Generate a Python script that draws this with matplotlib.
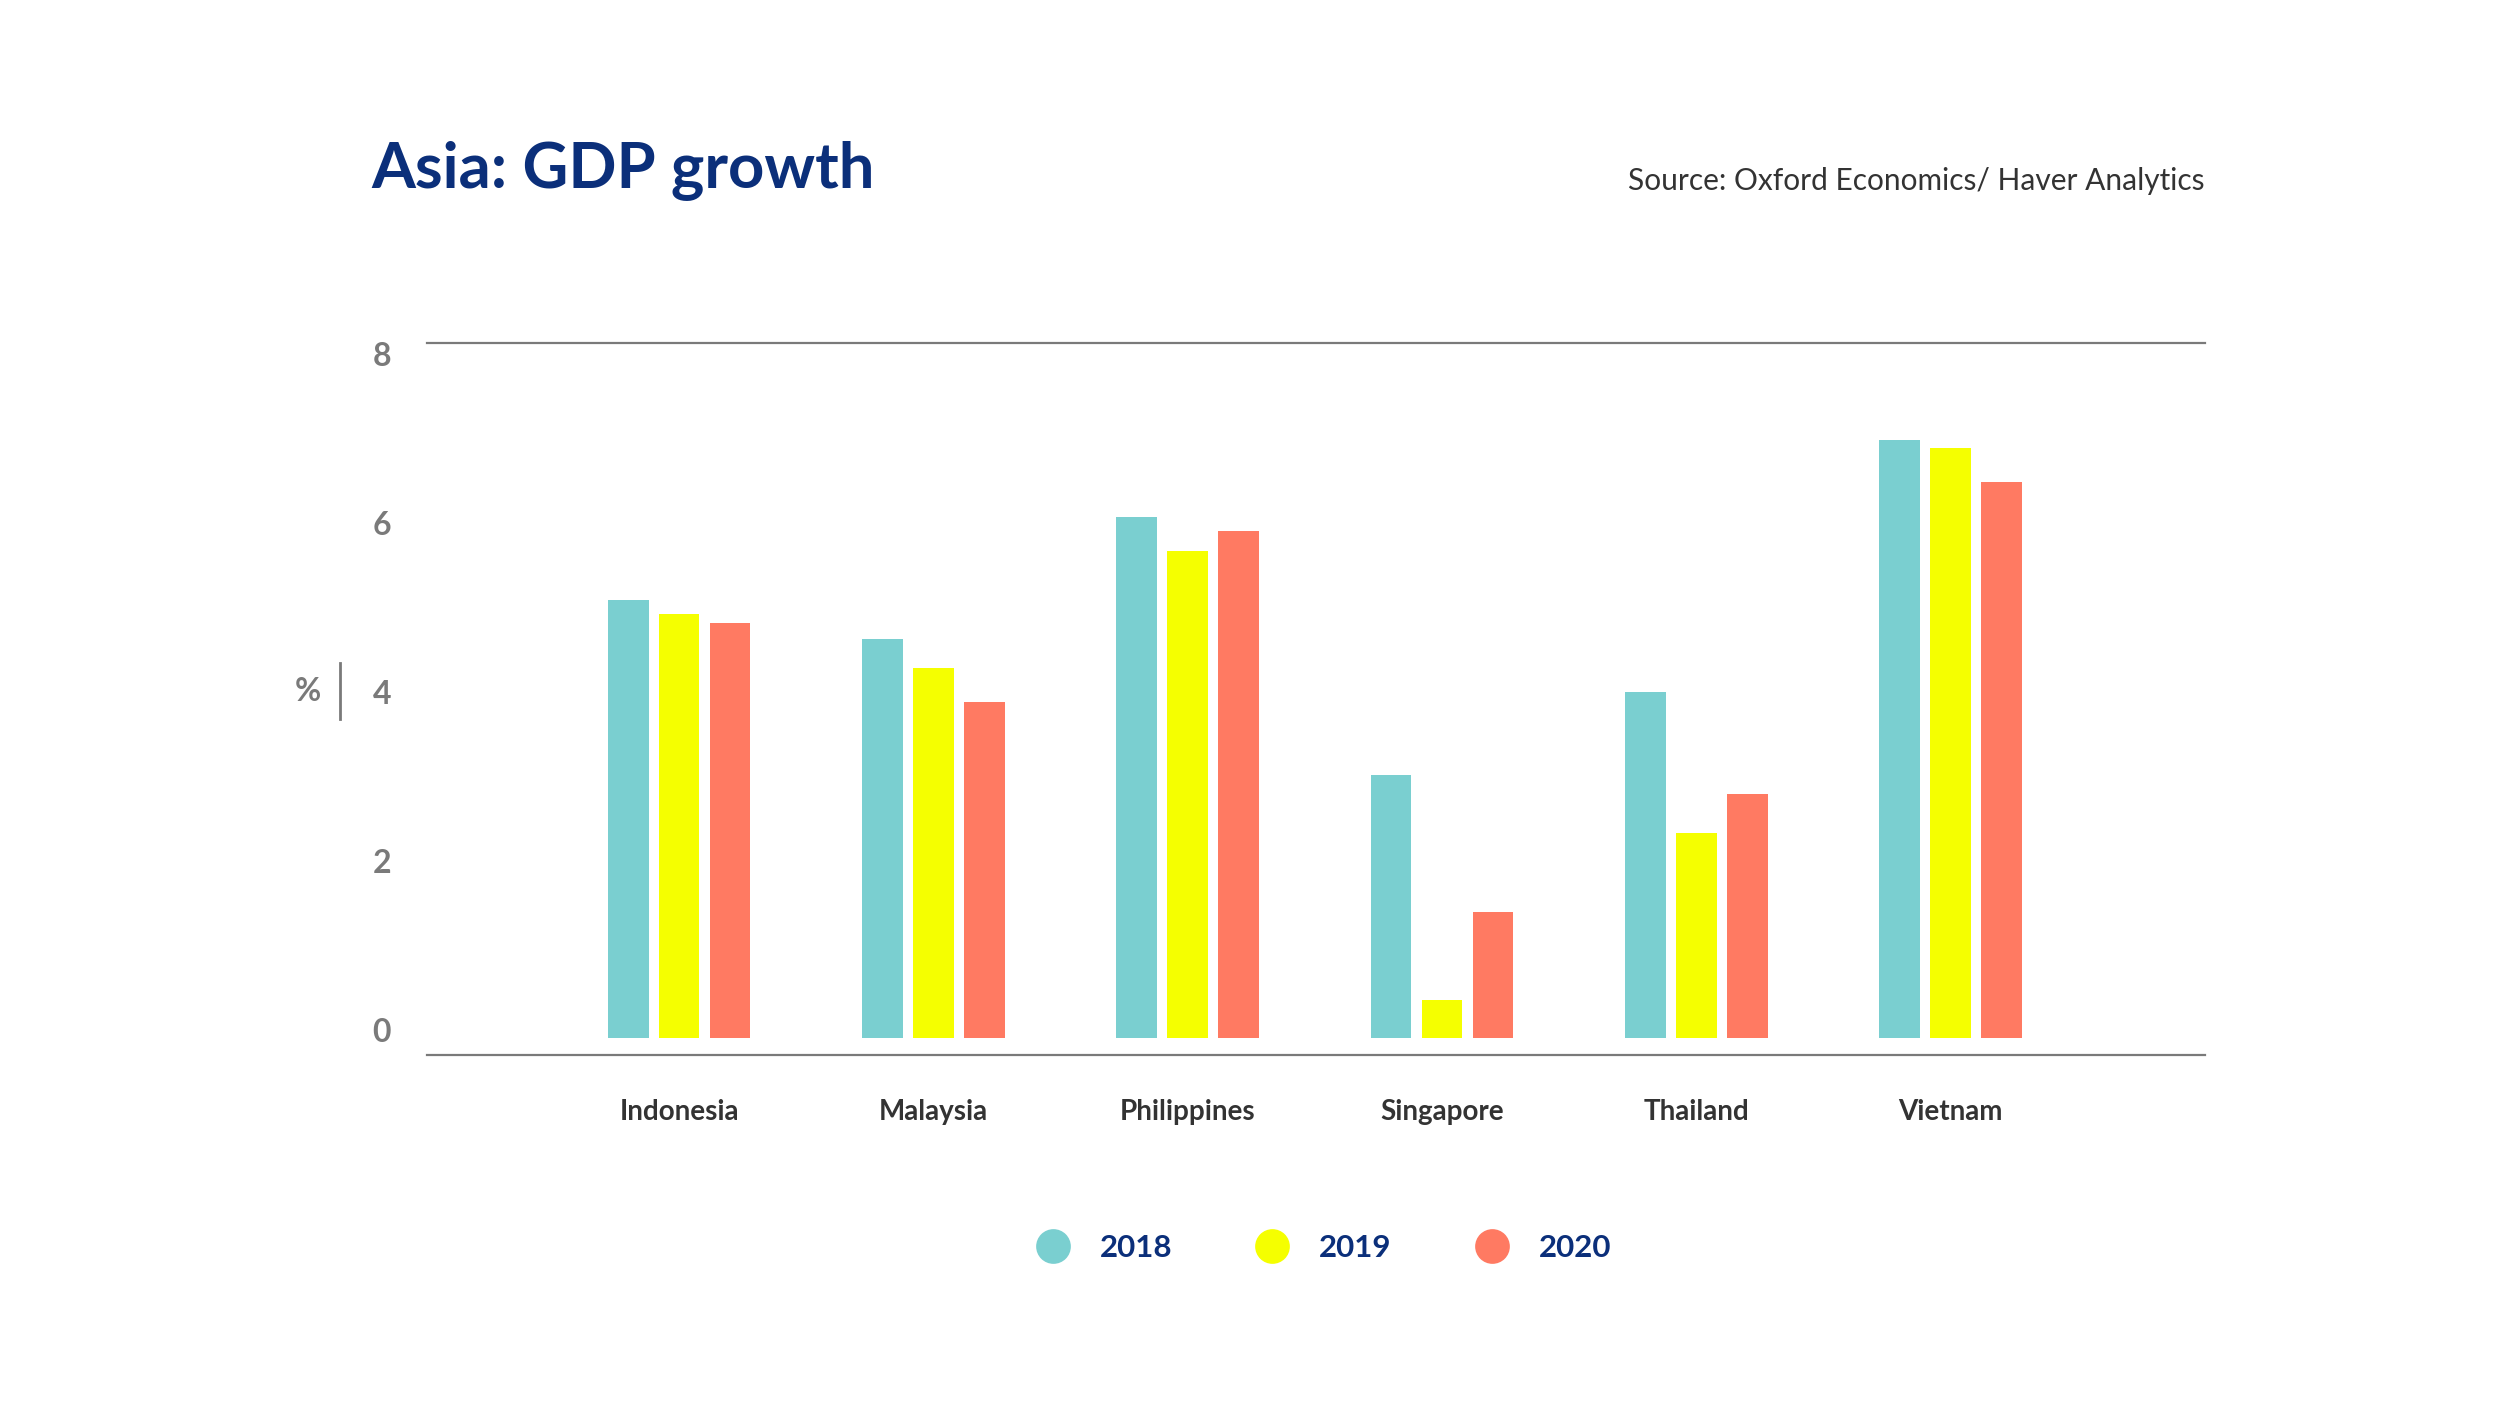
import numpy as np
import matplotlib
matplotlib.use('Agg')
import matplotlib.pyplot as plt
import matplotlib.transforms as mtransforms
from matplotlib.lines import Line2D

# Chart data
countries = ['Indonesia', 'Malaysia', 'Philippines', 'Singapore', 'Thailand', 'Vietnam']
years = ['2018', '2019', '2020']
gdp_2018 = [5.18, 4.72, 6.17, 3.11, 4.09, 7.08]
gdp_2019 = [5.02, 4.38, 5.77, 0.45, 2.42, 6.98]
gdp_2020 = [4.91, 3.98, 6.00, 1.49, 2.89, 6.58]
y_ticks = [0, 2, 4, 6, 8]

colors = ['#7ACFD0', '#F5FF00', '#FF7A62']
navy = '#0B2F7A'
grey = '#7A7A7A'

plt.rcParams['font.family'] = ['Lato', 'DejaVu Sans']

fig = plt.figure(figsize=(25, 14.06), dpi=100)
ax = fig.add_axes([0.1709, 0.2493, 0.7111, 0.5069])

x = np.arange(len(countries))
width = 0.16
offsets = [-0.2, 0.0, 0.2]
for series, off, col in zip([gdp_2018, gdp_2019, gdp_2020], offsets, colors):
    ax.bar(x + off, series, width=width, color=col, edgecolor='none')

ax.set_xlim(-0.99, 6.0)
ax.set_ylim(-0.21, 8.23)

# only top and bottom lines
for side in ['left', 'right']:
    ax.spines[side].set_visible(False)
for side in ['top', 'bottom']:
    ax.spines[side].set_color(grey)
    ax.spines[side].set_linewidth(1.6)

ax.set_yticks(y_ticks)
ax.set_yticklabels([str(t) for t in y_ticks], fontsize=23, fontweight='bold', color=grey)
ax.tick_params(axis='y', length=0, pad=26)
# labels sit a little above their values in the original
shift = mtransforms.ScaledTranslation(0, 8 / 100, fig.dpi_scale_trans)
for lab in ax.get_yticklabels():
    lab.set_transform(lab.get_transform() + shift)

ax.set_xticks(x)
ax.set_xticklabels(countries, fontsize=20, fontweight='bold', color='#333333')
ax.tick_params(axis='x', length=0, pad=31)

# unit label with little separator
fig.text(308 / 2500, 1 - 692 / 1406, '%', fontsize=23, fontweight='bold', color=grey,
         ha='center', va='center')
fig.add_artist(Line2D([340 / 2500, 340 / 2500], [1 - 663 / 1406, 1 - 719 / 1406],
                      color=grey, linewidth=2))

# title and source
fig.text(371 / 2500, 1 - 170 / 1406, 'Asia: GDP growth', fontsize=45.5, fontweight='bold',
         color=navy, ha='left', va='center')
fig.text(2205 / 2500, 1 - 181 / 1406, 'Source: Oxford Economics/ Haver Analytics',
         fontsize=21.5, color='#333333', ha='right', va='center')

# legend
handles = [Line2D([0], [0], marker='o', linestyle='none', markersize=25,
                  markerfacecolor=c, markeredgecolor='none') for c in colors]
fig.legend(handles, years, loc='center', bbox_to_anchor=(0.529, 1 - 1248 / 1406), ncol=3,
           frameon=False, handlelength=1.2, handletextpad=0.9, columnspacing=2.6,
           prop={'size': 22.5, 'weight': 'bold'}, labelcolor=navy)

fig.savefig('out.png', dpi=100, facecolor='white')
